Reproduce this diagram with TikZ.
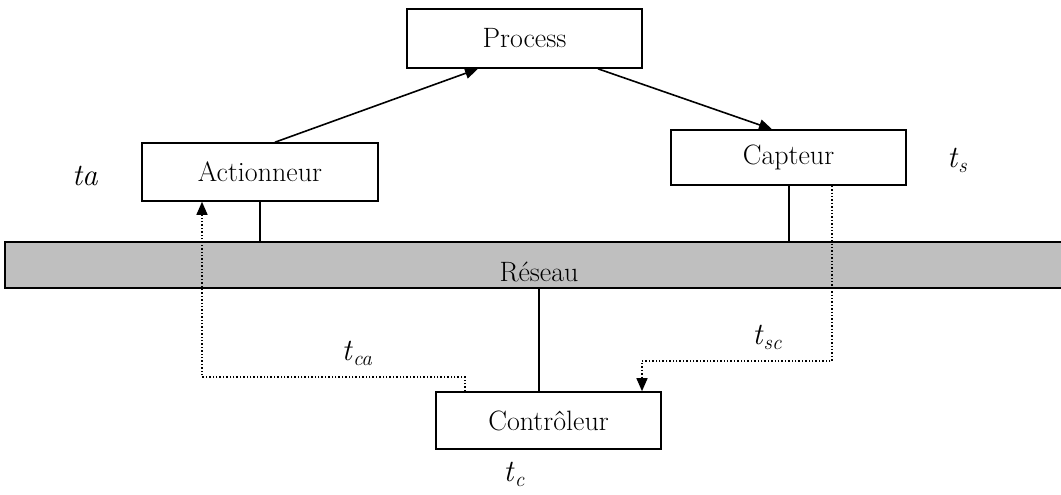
\documentclass[tikz,border=0pt]{standalone}
\usepackage{fontspec}
\usetikzlibrary{arrows.meta,calc}
\newcommand{\tsub}[2]{\textit{#1}{\fontsize{21}{24}\selectfont\raisebox{-5pt}{\textit{#2}}}}
\begin{document}
\begin{tikzpicture}[x=1pt,y=-1pt,
  box/.style={draw,line width=1.6pt,fill=white,inner sep=0pt,font=\fontsize{28}{32}\selectfont},
  conn/.style={line width=1.6pt},
  tip/.style={-{Triangle[length=13pt,width=11pt]}},
  dots/.style={line width=1.4pt,dotted},
  lab/.style={font=\fontsize{31}{36}\selectfont}]
\useasboundingbox (0,0) rectangle (1061,495);
% network band
\fill[gray!50] (5,242) rectangle (1061,288);
\draw[line width=1.6pt] (1061,242) -- (5,242) -- (5,288) -- (1061,288);
\coordinate (nettop) at (533,242);
\coordinate (netbot) at (533,288);
\node[font=\fontsize{28}{32}\selectfont] (reseau) at (539,272) {Réseau};
% boxes
\node[box,minimum width=235pt,minimum height=59pt] (proc) at (524.5,38.5) {Process};
\node[box,minimum width=236pt,minimum height=58pt] (act) at (260,172) {Actionneur};
\node[box,minimum width=235pt,minimum height=55pt] (cap) at (788.5,157.5) {Capteur};
\node[box,minimum width=225pt,minimum height=57pt] (ctrl) at (548.5,420.5) {Contrôleur};
% process links
\draw[conn,tip] ([xshift=15pt]act.north) -- ([xshift=-46.5pt]proc.south);
\draw[conn,tip] ([xshift=73.5pt]proc.south) -- ([xshift=-16.5pt]cap.north);
% network links
\draw[conn] (act.south) -- (act.south |- nettop);
\draw[conn] ([xshift=0.5pt]cap.south) -- ([xshift=0.5pt]cap.south |- nettop);
\draw[conn] ([xshift=-9.5pt]ctrl.north) -- ([xshift=-9.5pt]ctrl.north |- netbot);
% dotted paths
\coordinate (ca1) at (465,377);
\coordinate (ca2) at (202,377);
\draw[dots,tip] ([xshift=-83.5pt]ctrl.north) -- (ca1) -- (ca2) -- ([xshift=-58pt]act.south);
\coordinate (sc1) at (832,361);
\coordinate (sc2) at (642,361);
\draw[dots,tip] ([xshift=43.5pt]cap.south) -- (sc1) -- (sc2) -- ([xshift=93.5pt]ctrl.north);
% labels
\node[lab] (ta) at (85,176) {\textit{ta}};
\node[lab] (ts) at (957,160) {\tsub{t}{s}};
\node[lab] (tca) at (357,353) {\tsub{t}{ca}};
\node[lab] (tsc) at (767,337) {\tsub{t}{sc}};
\node[lab] (tc) at (514,474) {\tsub{t}{c}};
\end{tikzpicture}
\end{document}
